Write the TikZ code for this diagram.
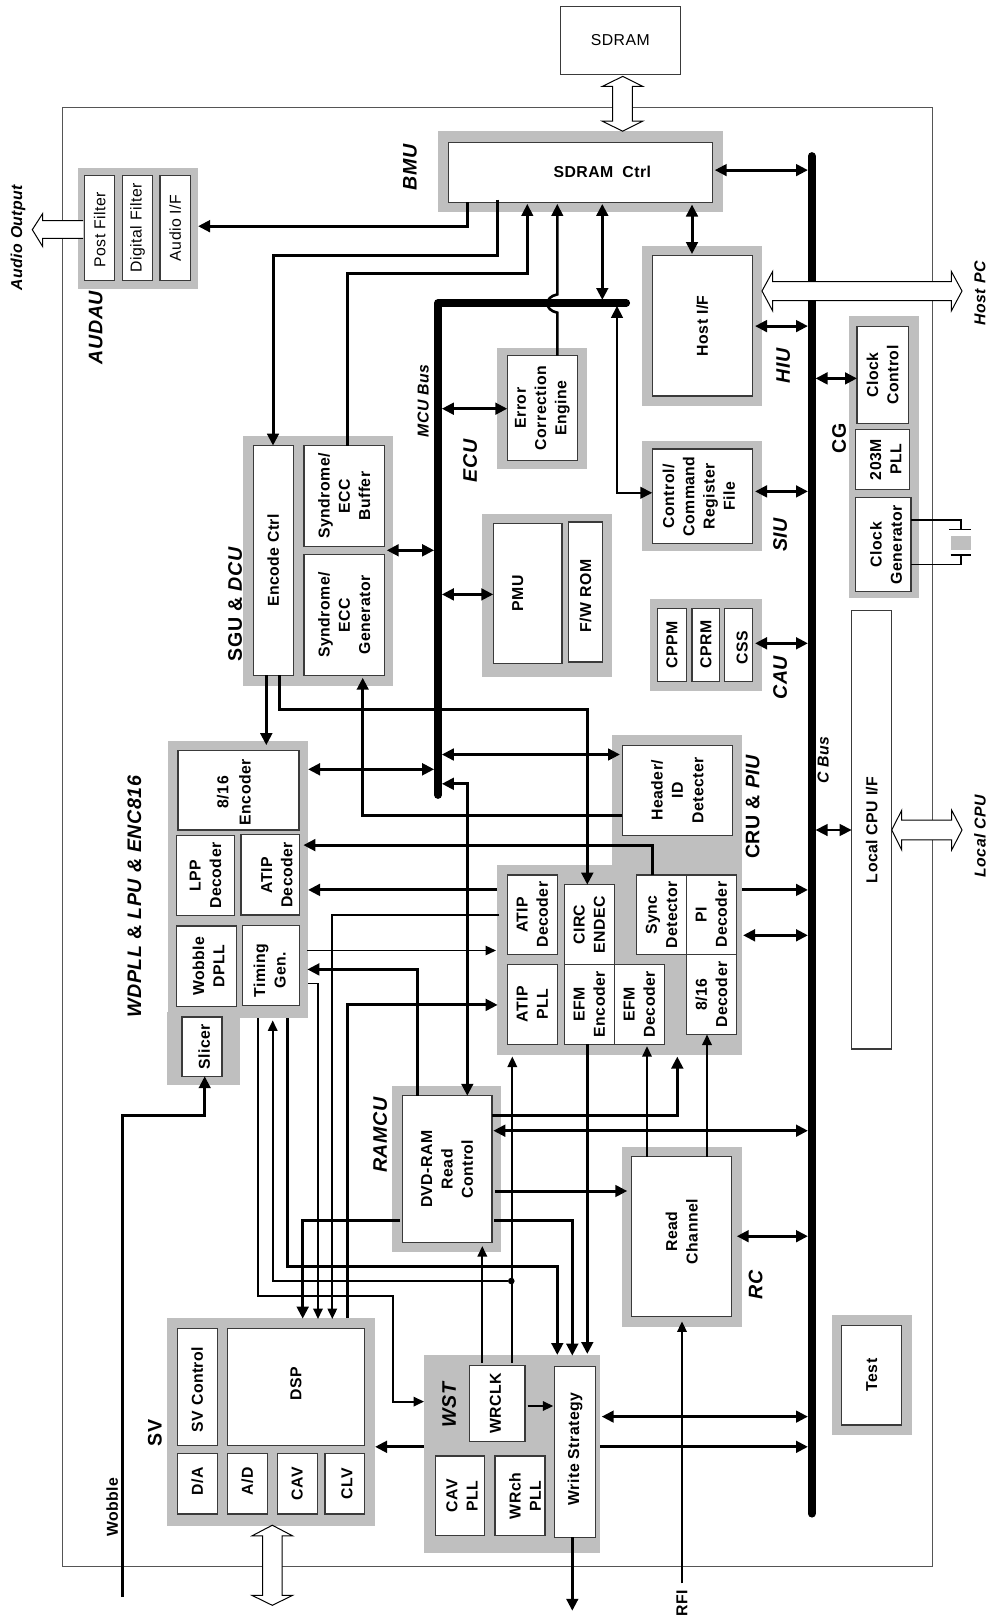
\documentclass[tikz,border=0pt]{standalone}
\usepackage{fontspec}
\setmainfont{Liberation Sans}[LetterSpace=3]
\usetikzlibrary{arrows.meta}
\definecolor{grayc}{HTML}{BFBFBF}
\definecolor{boxc}{HTML}{3A3A3A}
\definecolor{framec}{HTML}{555555}
\tikzset{
  gb/.style={fill=grayc,draw=none,inner sep=0pt,outer sep=0pt},
  wb/.style={fill=white,draw=boxc,line width=1.2pt,inner sep=0pt,outer sep=0pt},
  lab/.style={rotate=90,align=center,inner sep=0pt,font=\fontsize{15.8}{20.3}\selectfont\bfseries},
  reg/.style={font=\fontsize{15.8}{20}\selectfont},
  cx/.style={yshift={-1*(#1)}},
  cy/.style={xshift={#1}},
  gl/.style={rotate=90,inner sep=0pt,font=\fontsize{19.6}{22}\selectfont\bfseries\itshape},
  sl/.style={rotate=90,inner sep=0pt,font=\fontsize{15.8}{20}\selectfont\bfseries\itshape},
  tl/.style={rotate=90,inner sep=0pt,font=\fontsize{15.8}{20}\selectfont\bfseries},
  th/.style={line width=3pt},
  md/.style={line width=2.6pt},
  sm/.style={line width=1.8pt},
  tn/.style={line width=1.3pt},
  ta/.style={-{Triangle[length=12pt,width=11.5pt]}},
  tb/.style={{Triangle[length=12pt,width=11.5pt]}-{Triangle[length=12pt,width=11.5pt]}},
  tc/.style={-{Triangle[length=10.5pt,width=9.5pt]}},
  busline/.style={line width=7.7pt,line cap=round,line join=round},
  fat/.style={fill=white,draw=black,line width=1pt,line join=miter}
}
\newcommand\gbx[5]{\node[gb,minimum width={(#4-#2)*1pt},minimum height={(#5-#3)*1pt}] (#1) at ({(#2+#4)/2},{(#3+#5)/2}) {};}
\newcommand\wbx[7][]{\node[wb,minimum width={(#5-#3)*1pt},minimum height={(#6-#4)*1pt},label={[lab,#1]center:{#7}}] (#2) at ({(#3+#5)/2},{(#4+#6)/2}) {};}
\begin{document}
\begin{tikzpicture}[x=1pt,y=-1pt]
\useasboundingbox (0,0) rectangle (990,1617);
\fill[white] (0,0) rectangle (990,1617);
% frame
\node[draw=framec,line width=1.2pt,fill=none,inner sep=0pt,outer sep=0pt,minimum width=869.6pt,minimum height=1458.8pt] (chip) at (497.4,837.2) {};
% grey block backgrounds
\gbx{bmu}{438}{130.9}{723}{211.8}
\gbx{audau}{78}{168}{198}{288.6}
\gbx{hiu}{642}{245.9}{762}{405.6}
\gbx{cg}{849}{316.1}{919}{597.5}
\gbx{ecu}{497}{347.8}{587}{468.7}
\gbx{siu}{642}{441.1}{762}{550.7}
\gbx{pmug}{482.3}{514.1}{612}{676.7}
\gbx{sgu}{243.3}{436}{393}{685.7}
\gbx{cau}{650}{598.9}{762}{690.8}
\gbx{wd}{168}{741.1}{308}{1018}
\gbx{slg}{167}{1011.8}{240}{1084.8}
\gbx{crua}{612}{734.9}{742}{870}
\gbx{cru}{497}{864.7}{742}{1054.5}
\gbx{ram}{392.3}{1086.2}{501}{1251.6}
\gbx{rc}{622}{1147.1}{742}{1326.6}
\gbx{testg}{832}{1314.9}{912}{1435.1}
\gbx{wst}{424}{1355}{600}{1552.6}
\gbx{sv}{167}{1318}{375}{1525.5}
% white boxes
\wbx{sdram}{560.3}{6.2}{680.3}{74.7}{}
\node[reg,inner sep=0pt] (sdramt) at (sdram.center) {SDRAM};
\wbx{bmuw}{448.7}{142.2}{712.3}{202.1}{}
\node[inner sep=0pt,font=\fontsize{15.8}{20}\selectfont\bfseries] (sdctl) at (602.3,172.2) {SDRAM\hspace{9pt}Ctrl};
\wbx[reg,cy=-2pt]{pf}{84.7}{175.3}{114.7}{280.6}{Post Filter}
\wbx[reg]{df}{122.3}{175.3}{152.7}{280.6}{Digital Filter}
\wbx[reg]{ai}{160}{175.3}{190.3}{280.6}{Audio I/F}
\wbx{host}{652.3}{255.5}{752.3}{396}{Host I/F}
\wbx{cc}{857}{326.4}{908.3}{423.6}{Clock\\Control}
\wbx[cx=3pt]{pll}{855.7}{429.8}{909.7}{489.3}{203M\\PLL}
\wbx[cx=2.7pt]{cgen}{855.7}{497.6}{911}{591.7}{Clock\\Generator}
\wbx{ece}{507.3}{355.7}{577.3}{460.4}{Error\\Correction\\Engine}
\wbx[cx=-3.5pt]{ctl}{652.3}{449}{752.3}{543.8}{Control/\\Command\\Register\\File}
\wbx[cx=-10pt]{pmu}{493.3}{523.8}{562}{663.3}{PMU}
\wbx[cy=-4pt]{rom}{568.7}{522}{602.3}{661.9}{F/W ROM}
\wbx{encc}{253.3}{445.6}{293.3}{675.3}{Encode Ctrl}
\wbx{synb}{304}{445.6}{384.3}{546.5}{Syndrome/\\ECC\\Buffer}
\wbx{syng}{304}{554.8}{384.3}{675.3}{Syndrome/\\ECC\\Generator}
\wbx{cppm}{657.7}{608.2}{686.3}{681.2}{CPPM}
\wbx{cprm}{692}{608.2}{719.7}{681.2}{CPRM}
\wbx[cx=3.8pt,cy=-3pt]{css}{724.7}{608.2}{752.3}{681.2}{CSS}
\wbx{lcpu}{851.7}{610.6}{891.7}{1049}{Local CPU I/F}
\wbx[cx=-4.6pt,cy=-2pt,font=\fontsize{15.8}{22.3}\selectfont\bfseries]{enc}{178}{750.4}{299}{829.9}{8/16\\Encoder}
\wbx{lpp}{176.7}{835.5}{234.3}{915.7}{LPP\\Decoder}
\wbx[cx=6.5pt]{atipa}{241}{834.8}{299.7}{915}{ATIP\\Decoder}
\wbx[cx=2pt]{wob}{176.7}{926}{236.3}{1006.3}{Wobble\\DPLL}
\wbx[cx=-1.5pt,cy=-5pt]{tim}{242.7}{925.7}{299.7}{1005.2}{Timing\\Gen.}
\wbx[cx=2.3pt]{sli}{182}{1016.9}{222}{1076.2}{Slicer}
\wbx{hdr}{622.3}{745.2}{732.3}{835.1}{Header/\\ID\\Detecter}
\wbx{atipb}{507.3}{875}{557.3}{954.6}{ATIP\\Decoder}
\wbx{atpll}{507.3}{964.6}{557.3}{1044.1}{ATIP\\PLL}
\wbx{circ}{564.3}{884.7}{614.3}{964.6}{CIRC\\ENDEC}
\wbx{efme}{564.3}{964.6}{614.3}{1044.1}{EFM\\Encoder}
\wbx{efmd}{614.3}{964.6}{664.3}{1044.1}{EFM\\Decoder}
\wbx{sync}{636.7}{875}{686.3}{954.6}{Sync\\Detector}
\wbx{pid}{686.3}{875}{736.3}{954.6}{PI\\Decoder}
\wbx{dec}{686.3}{954.6}{736.3}{1034.5}{8/16\\Decoder}
\wbx{dvd}{402.3}{1095.8}{492}{1242.7}{DVD-RAM\\Read\\Control}
\wbx[cy=5pt]{read}{631.7}{1156.7}{731.7}{1316.3}{Read\\Channel}
\wbx{test}{841.7}{1325.2}{901.7}{1424.9}{Test}
\wbx[cx=-2pt]{wrclk}{469.7}{1365.6}{525}{1441.6}{WRCLK}
\wbx[cx=2pt]{cavp}{435.3}{1456}{484.7}{1535.8}{CAV\\PLL}
\wbx[cx=5pt]{wrch}{495}{1456}{545}{1535.8}{WRch\\PLL}
\wbx[cy=3pt]{ws}{554.7}{1366.6}{595.3}{1537.2}{Write Strategy}
\wbx[cy=-2.5pt]{svc}{177.3}{1328.3}{217.3}{1445.8}{SV Control}
\wbx[cy=3pt]{dsp}{227.3}{1328.3}{364.7}{1445.8}{DSP}
\wbx[cy=2.7pt]{da}{177.3}{1453.6}{217.3}{1513.9}{D/A}
\wbx[cy=2.7pt]{ad}{227.3}{1453.6}{267.3}{1513.9}{A/D}
\wbx{cav}{277.3}{1453.6}{317.3}{1513.9}{CAV}
\wbx[cx=2pt]{clv}{325}{1453.6}{364.7}{1513.9}{CLV}
% buses
\coordinate (cbt) at (811.7,156);
\coordinate (cbb) at (811.7,1513.7);
\coordinate (mbe) at (438,795);
\coordinate (mbc) at (438,303);
\coordinate (mbr) at (626.2,303);
\coordinate (cL) at (808,0);
\coordinate (cR) at (815.5,0);
\coordinate (mL) at (434.2,0);
\coordinate (mR) at (441.8,0);
\draw[busline] (cbt) -- (cbb);
\draw[busline] (mbe) -- (mbc) -- (mbr);
% BMU connectors
\draw[th,ta] (467.3,0 |- bmuw.south) -- (467.3,226.2) -- (audau.east |- 0,226.2);
\draw[th,ta] (497.7,199.7) -- (497.7,255.9) -- (273,255.9) -- (273,0 |- encc.north);
\draw[md,ta] (347.3,0 |- synb.north) -- (347.3,273.4) -- (527.3,273.4) -- ([yshift=-1.8pt]bmuw.south -| 527.3,0);
\draw[md,ta] (557.3,0 |- ece.north) -- (557.3,312.7) .. controls (544,310) and (544,297) .. (557.3,294.4) -- ([yshift=-1.8pt]bmuw.south -| 557.3,0);
\draw[th,tb] ([yshift=-1.8pt]bmuw.south -| 602.3,0) -- (602.3,300);
\draw[md,tb] (617,305.8) -- (617,492.8) -- (ctl.west |- 0,492.8);
\draw[th,tb] ([xshift=2.4pt]bmuw.east |- 0,170.1) -- (cL |- 0,170.1);
\draw[th,tb] (692,204.5) -- (692,254.1);
% C-bus connectors
\draw[th,tb] (755,326.1) -- (cL |- 0,326.1);
\draw[th,tb] (cR |- 0,378.4) -- (cc.west |- 0,378.4);
\draw[th,tb] (755,491.4) -- (cL |- 0,491.4);
\draw[th,tb] (755,643.3) -- (cL |- 0,643.3);
\draw[md,tb] (cR |- 0,830) -- (lcpu.west |- 0,830);
\draw[th,ta] (cru.east |- 0,889.9) -- (cL |- 0,889.9);
\draw[th,tb] ([xshift=1pt]cru.east |- 0,935.3) -- (cL |- 0,935.3);
\draw[th,tb] ([xshift=1.3pt]dvd.east |- 0,1130.7) -- (cL |- 0,1130.7);
\draw[th,tb] (736.7,1236.2) -- (cL |- 0,1236.2);
\draw[th,tb] (601.7,1416.6) -- (cL |- 0,1416.6);
\draw[th,ta] (wst.east |- 0,1446.8) -- (cL |- 0,1446.8);
% MCU-bus connectors
\draw[th,tb] (mR |- 0,408.7) -- (ece.west |- 0,408.7);
\draw[th,tb] (mR |- 0,594.4) -- (pmu.west |- 0,594.4);
\draw[th,tb] (386.7,550.3) -- (mL |- 0,550.3);
\draw[th,tb] (wd.east |- 0,769.3) -- (mL |- 0,769.3);
\draw[th,tb] (mR |- 0,754.5) -- (620,754.5);
\draw[th,tb] (mR |- 0,783.8) -- (467.3,783.8) -- (467.3,0 |- dvd.north);
% SGU connectors
\draw[th,ta] (266.3,0 |- encc.south) -- (266.3,745.2);
\draw[th,ta] (279.3,0 |- encc.south) -- (279.3,709.4) -- (587.3,709.4) -- (587.3,0 |- circ.north);
\draw[th,ta] (hdr.west |- 0,815.1) -- (362.7,815.1) -- (362.7,677.7);
% CRU / WDPLL connectors
\draw[th,ta] (652.3,0 |- sync.north) -- (652.3,845.1) -- (303.3,845.1);
\draw[th,ta] (cru.west |- 0,889.9) -- (wd.east |- 0,889.9);
\draw[sm,tc] (499,914.7) -- (332.3,914.7) -- (332.3,1319);
\draw[tn,tc] (307.3,950.5) -- (496,950.5);
\draw[th,ta] (417,0 |- dvd.north) -- (417,969.4) -- (307.3,969.4);
\draw[sm,tc] (308,983.5) -- (318,983.5) -- (318,1319);
\draw[th,ta] (347.3,0 |- sv.north) -- (347.3,1004.9) -- (497.7,1004.9);
\draw[sm,tc] (257.7,0 |- wd.south) -- (257.7,1296.1) -- (392.7,1296.1) -- (392.7,1401.6) -- (wst.west |- 0,1401.6);
\node[circle,fill=black,inner sep=0pt,minimum size=6.6pt] (dot) at (511.3,1281) {};
\draw[sm,tc] (dot) -- (272.7,1281) -- (272.7,1020.4);
\draw[th,ta] (287.7,0 |- wd.south) -- (287.7,1266.3) -- (557.3,1266.3) -- (557.3,1355);
% RAMCU connectors
\draw[th,ta] (491.7,1115.3) -- (677.3,1115.3) -- (677.3,1056.5);
\draw[th,ta] (495,1191) -- (627.3,1191);
\draw[th,ta] (494,1220.8) -- (572.3,1220.8) -- (572.3,1355.7);
\draw[th,ta] (400,1220.8) -- (302.7,1220.8) -- (302.7,1318.7);
\draw[th,ta] (587.3,0 |- efme.south) -- (587.3,1354);
% read channel, WST
\draw[sm,tc] (647,0 |- read.north) -- (647,1046.2);
\draw[sm,tc] (707,0 |- read.north) -- (707,0 |- dec.south);
\draw[sm,tc] (512.3,1362.9) -- (512.3,1056.5);
\draw[sm,tc] (482.3,1362.9) -- (482.3,1246.1);
\draw[sm,tc] (527.7,1406) -- (553.3,1406);
\draw[th,ta] (wst.west |- 0,1446.8) -- (sv.east |- 0,1446.8);
\coordinate (wsout) at (572.3,1610.8);
\draw[th,ta] (572.3,0 |- ws.south) -- (wsout);
\coordinate (rfifoot) at (682,1583.4);
\draw[sm,tc] (rfifoot) -- (682,1321.4);
\coordinate (wobfoot) at (122.3,1597.1);
\draw[th,ta] (wobfoot) -- (122.3,1115.3) -- (204.7,1115.3) -- (204.7,0 |- sli.south);
% crystal
\draw[line width=1.5pt] (cgen.east |- 0,520) -- (961,520) -- (961,529.3);
\draw[line width=1.5pt] (949.3,529.3) -- (970.7,529.3);
\fill[grayc] (951,536) rectangle (971,550);
\draw[line width=1.5pt] (950.7,555) -- (971,555);
\draw[line width=1.5pt] (961,555) -- (961,564.7) -- (cgen.east |- 0,564.7);
% fat arrows
\draw[fat] (622.7,76.4) -- (642.7,86.4) -- (632.3,86.4) -- (632.3,121.2) -- (642.7,121.2) -- (622.7,131.2) -- (602.3,121.2) -- (612.7,121.2) -- (612.7,86.4) -- (602.3,86.4) -- cycle;
\draw[fat] (272.3,1525.2) -- (292.5,1535.8) -- (282.1,1535.8) -- (282.1,1595.4) -- (292.5,1595.4) -- (272.3,1605.3) -- (252.1,1595.4) -- (262.5,1595.4) -- (262.5,1535.8) -- (252.1,1535.8) -- cycle;
\draw[fat] (762,291) -- (772.7,271.4) -- (772.7,281.7) -- (951.3,281.7) -- (951.3,271.4) -- (962,291) -- (951.3,311) -- (951.3,300.6) -- (772.7,300.6) -- (772.7,311) -- cycle;
\draw[fat] (891.7,830) -- (901.7,810.3) -- (901.7,820) -- (951.7,820) -- (951.7,810.3) -- (962,830) -- (951.7,849.9) -- (951.7,839.9) -- (901.7,839.9) -- (901.7,849.9) -- cycle;
\fill[white] (83,220.7) -- (42.7,220.7) -- (42.7,213.5) -- (32.3,229.7) -- (42.7,246.6) -- (42.7,238.3) -- (83,238.3) -- cycle;
\draw[line width=1pt] (83,220.7) -- (42.7,220.7) -- (42.7,213.5) -- (32.3,229.7) -- (42.7,246.6) -- (42.7,238.3) -- (83,238.3);
% group labels
\node[gl] (lbmu) at (410,167.5) {BMU};
\node[gl] (laud) at (95.7,327.5) {AUDAU};
\node[gl] (lhiu) at (783.3,366.2) {HIU};
\node[gl] (lsiu) at (780,535) {SIU};
\node[gl] (lecu) at (470,461.1) {ECU};
\node[gl] (lcau) at (780,677.7) {CAU};
\node[gl] (lsgu) at (235,604.5) {{\upshape SGU \&} DCU};
\node[gl] (lcru) at (752.7,806.9) {{\upshape CRU \&} PIU};
\node[gl] (lwd) at (134.3,896.6) {WDPLL {\upshape\&} LPU \& ENC816};
\node[gl] (lram) at (380,1135.1) {RAMCU};
\node[gl] (lrc) at (755.7,1285.1) {RC};
\node[gl] (lwst) at (449,1405.3) {WST};
\node[gl,font=\fontsize{19.6}{22}\selectfont\bfseries] (lcg) at (839,438.4) {CG};
\node[gl,font=\fontsize{19.6}{22}\selectfont\bfseries] (lsv) at (155,1432.7) {SV};
% signal labels
\node[sl] (laudo) at (18,237.6) {Audio Output};
\node[sl] (lhost) at (980,293.4) {Host PC};
\node[sl] (llocal) at (980,836.1) {Local CPU};
\node[sl] (lmcu) at (423.3,401.2) {MCU Bus};
\node[sl] (lcbus) at (823.3,759.9) {C Bus};
\node[tl] (lwob) at (112.3,1507.2) {Wobble};
\node[tl] (lrfi) at (682,1603) {RFI};
\end{tikzpicture}
\end{document}
